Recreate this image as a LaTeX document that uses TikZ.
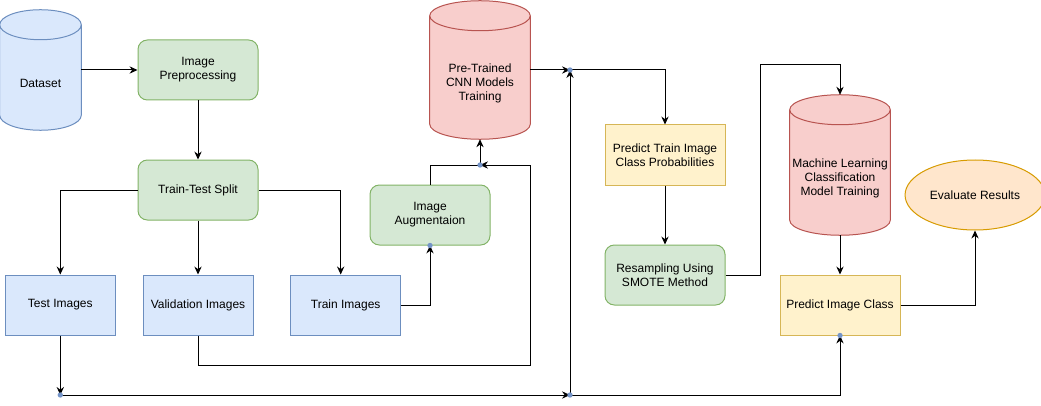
\documentclass[tikz,border=0pt]{standalone}
\usepackage{fontspec}
\setmainfont{Liberation Sans}
\usetikzlibrary{shapes.geometric,arrows.meta,calc}
\definecolor{bluefill}{HTML}{DAE8FC}
\definecolor{blueline}{HTML}{6C8EBF}
\definecolor{greenfill}{HTML}{D5E8D4}
\definecolor{greenline}{HTML}{82B366}
\definecolor{redfill}{HTML}{F8CECC}
\definecolor{redline}{HTML}{B85450}
\definecolor{yellowfill}{HTML}{FFF2CC}
\definecolor{yellowline}{HTML}{D6B656}
\definecolor{orangefill}{HTML}{FFE6CC}
\definecolor{orangeline}{HTML}{D79B00}
\definecolor{dotblue}{HTML}{7494C8}
\tikzset{
  txt/.style={font=\fontsize{9}{10.5}\selectfont, align=center},
  box/.style={rectangle, draw, txt, line width=0.75pt, minimum height=45pt, inner sep=1pt},
  bluebox/.style={box, fill=bluefill, draw=blueline, minimum width=82.5pt},
  greenbox/.style={box, fill=greenfill, draw=greenline, minimum width=90pt, rounded corners=7pt},
  yellowbox/.style={box, fill=yellowfill, draw=yellowline, minimum width=90pt},
  cylbox/.style={rectangle, inner sep=0pt, minimum width=75pt},
  arr/.style={-{Stealth[length=6pt,width=5.5pt,inset=2pt]}, line width=0.75pt},
  ln/.style={line width=0.75pt},
  jdot/.style={fill=dotblue}
}
% cylinder drawn on the box of a named node: name, fill, line
\newcommand{\drawcyl}[3]{
\draw [fill=#2, draw=#3, line width=0.75pt]
  let \p1=(#1.north west), \p2=(#1.south east), \n1={(\x2-\x1)/2} in
  (\x1,\y1-11.25pt) -- (\x1,\y2+11.25pt)
  arc [start angle=180, end angle=360, x radius=\n1, y radius=11.25pt]
  -- (\x2,\y1-11.25pt)
  arc [start angle=0, end angle=180, x radius=\n1, y radius=11.25pt] -- cycle
  (\x1,\y1-11.25pt)
  arc [start angle=180, end angle=360, x radius=\n1, y radius=11.25pt];
}
\begin{document}
\begin{tikzpicture}[x=0.75pt, y=-0.75pt]
\useasboundingbox (0,0) rectangle (1041,406);
% nodes
\node [cylbox, minimum width=60.75pt, minimum height=90pt] (data) at (40.5,70) {};
\drawcyl{data}{bluefill}{blueline}
\node [txt] (datatxt) at ([yshift=-9.75pt]data.center) {Dataset};
\node [greenbox] (prep) at (198,70) {Image\\Preprocessing};
\node [greenbox] (split) at (198,190) {Train-Test Split};
\node [bluebox] (test) at (60.3,305) {Test Images};
\node [bluebox] (val) at (198,305) {Validation Images};
\node [bluebox] (train) at (345.7,305) {Train Images};
\node [greenbox] (aug) at (430,215) {Image\\Augmentaion};
\node [cylbox, minimum height=103.5pt] (cnn) at (480,70) {};
\drawcyl{cnn}{redfill}{redline}
\node [txt] (cnntxt) at ([yshift=-10pt]cnn.center) {Pre-Trained\\CNN Models\\Training};
\node [yellowbox] (ptrain) at (665,155) {Predict Train Image\\Class Probabilities};
\node [greenbox] (smote) at (665,275) {Resampling Using\\SMOTE Method};
\node [cylbox, minimum height=105pt] (ml) at (840,165) {};
\drawcyl{ml}{redfill}{redline}
\node [txt] (mltxt) at ([yshift=-10pt]ml.center) {Machine Learning\\Classification\\Model Training};
\node [yellowbox] (pimg) at (840,305) {Predict Image Class};
\node [ellipse, draw=orangeline, fill=orangefill, line width=0.75pt, txt,
  minimum width=97.5pt, minimum height=52.5pt] (eval) at (975,195) {Evaluate Results};
% junction points
\coordinate (j1) at (480,165);
\coordinate (j2) at (570,70);
\coordinate (j3) at (60.3,395);
\coordinate (j4) at (570,395);

% connectors
\draw [arr] (data.east) -- (prep.west);
\draw [arr] (prep.south) -- (split.north);
\draw [arr] (split.west) -| (test.north);
\draw [arr] (split.south) -- (val.north);
\draw [arr] (split.east) -| ([xshift=-3.75pt]train.north);
\draw [arr] (train.east) -| (aug.south);
\draw [ln] (aug.north) |- (j1);
\draw [arr] (val.south) |- (530,365) |- (j1);
\draw [arr] (j1) -- (cnn.south);
\draw [arr] (cnn.east) -- (j2);
\draw [arr] (j2) -| (ptrain.north);
\draw [arr] (ptrain.south) -- (smote.north);
\draw [arr] (smote.east) -| (760,65) -| (ml.north);
\draw [arr] (ml.south) -- (pimg.north);
\draw [arr] (pimg.east) -| (eval.south);
\draw [arr] (test.south) -- (j3);
\draw [arr] (j3) -- (j4);
\draw [arr] (j4) -- (j2);
\draw [arr] (j4) -| (pimg.south);

\foreach \p in {j1,j2,j3,j4,aug.south,pimg.south}
  \fill [jdot] (\p) circle [radius=2pt];
\end{tikzpicture}
\end{document}
